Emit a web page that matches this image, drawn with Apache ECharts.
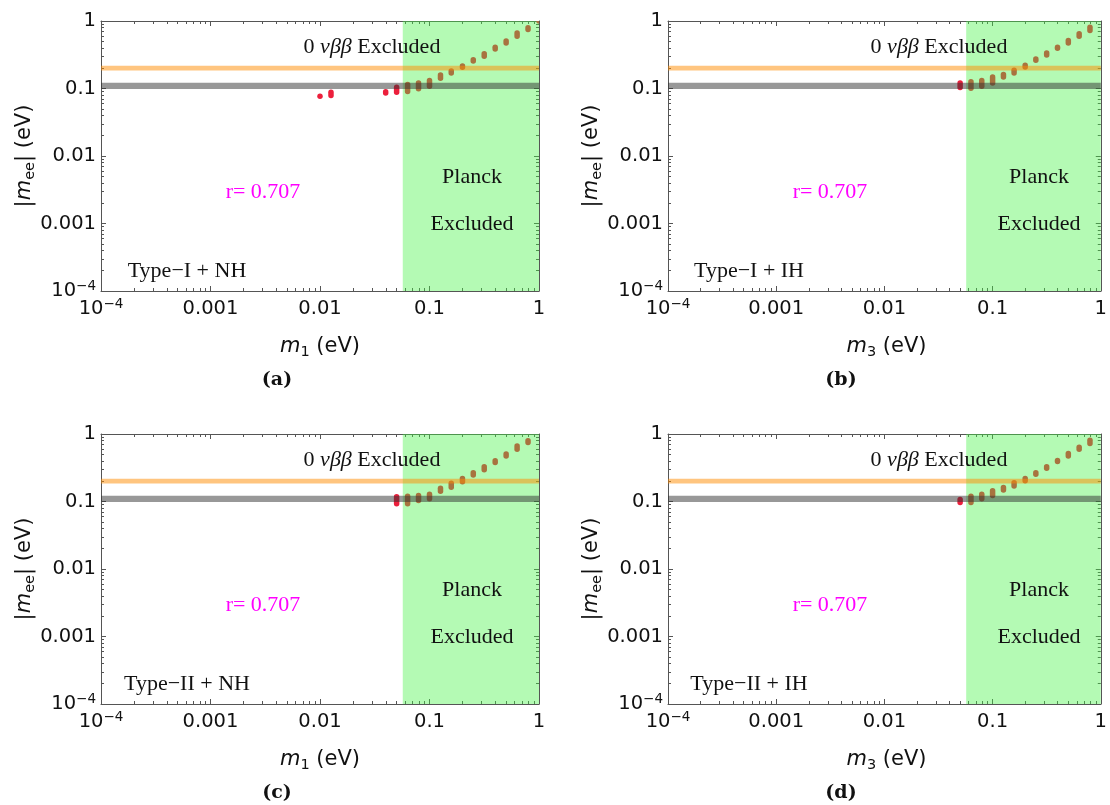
<!DOCTYPE html>
<html><head><meta charset="utf-8">
<script src="https://cdn.jsdelivr.net/npm/echarts@6/dist/echarts.min.js"></script>
<style>html,body{margin:0;padding:0;background:#fff}#c{width:1110px;height:805px}</style>
</head><body><div id="c"></div>
<script>
// ---------- data ----------
const majorTicks = [1e-4, 1e-3, 1e-2, 1e-1, 1];
const minorMultipliers = [2, 3, 4, 5, 6, 7, 8, 9];
const decades = [1e-4, 1e-3, 1e-2, 1e-1];
const planckLimit = 0.057;
const bandOrange = [0.184, 0.218];
const bandGray = [0.098, 0.122];

// Panel (a) Type-I + NH
const xA  = [0.01, 0.0126, 0.0398, 0.0501, 0.0631, 0.0794, 0.1, 0.126, 0.158, 0.2, 0.251, 0.316, 0.398, 0.501, 0.631, 0.794, 1.0];
const loA = [0.076, 0.072, 0.078, 0.080, 0.082, 0.090, 0.098, 0.129, 0.155, 0.188, 0.233, 0.274, 0.35, 0.43, 0.54, 0.68, 0.92];
const hiA = [0.078, 0.097, 0.098, 0.115, 0.126, 0.132, 0.144, 0.174, 0.199, 0.236, 0.293, 0.36, 0.45, 0.554, 0.73, 0.87, 1.08];
// Panel (b) Type-I + IH
const xB  = [0.0501, 0.0631, 0.0794, 0.1, 0.126, 0.158, 0.2, 0.251, 0.316, 0.398, 0.501, 0.631, 0.794];
const loB = [0.094, 0.092, 0.098, 0.110, 0.135, 0.155, 0.19, 0.238, 0.286, 0.36, 0.43, 0.54, 0.66];
const hiB = [0.132, 0.138, 0.144, 0.162, 0.177, 0.204, 0.242, 0.30, 0.37, 0.45, 0.566, 0.71, 0.89];
// Panel (c) Type-II + NH
const xC  = [0.0501, 0.0631, 0.0794, 0.1, 0.126, 0.158, 0.2, 0.251, 0.316, 0.398, 0.501, 0.631, 0.794];
const loC = [0.084, 0.084, 0.094, 0.1, 0.129, 0.148, 0.178, 0.225, 0.27, 0.345, 0.43, 0.54, 0.68];
const hiC = [0.129, 0.131, 0.135, 0.141, 0.172, 0.204, 0.24, 0.294, 0.36, 0.44, 0.553, 0.73, 0.87];
// Panel (d) Type-II + IH
const xD  = [0.0501, 0.0631, 0.0794, 0.1, 0.126, 0.158, 0.2, 0.251, 0.316, 0.398, 0.501, 0.631, 0.794];
const loD = [0.088, 0.088, 0.1, 0.112, 0.135, 0.154, 0.184, 0.23, 0.284, 0.355, 0.43, 0.54, 0.66];
const hiD = [0.118, 0.131, 0.141, 0.158, 0.177, 0.208, 0.24, 0.294, 0.36, 0.445, 0.566, 0.70, 0.89];

const typeLabels = ['Type\u2212I + NH', 'Type\u2212I + IH', 'Type\u2212II + NH', 'Type\u2212II + IH'];
const xSubs = ['1', '3', '1', '3'];
const captions = ['(a)', '(b)', '(c)', '(d)'];
const rText = 'r= 0.707';

// ---------- layout / style ----------
const grids = [
  {left: 101, top: 21, width: 438, height: 270},
  {left: 668, top: 21, width: 437, height: 270},
  {left: 101, top: 434, width: 438, height: 270},
  {left: 668, top: 434, width: 437, height: 270}
];
const typeCx = [86, 81, 86, 81];
const capCx = [176, 173, 176, 173];
const frameColor = '#555';
const labelFont = 'DejaVu Sans';
const serif = 'Liberation Serif';
const pointColor = '#ec1f3c';

const minorTicks = [];
decades.forEach(d => minorMultipliers.forEach(m => minorTicks.push(+(d * m).toPrecision(3))));

function fmt(v) {
  const e = Math.round(Math.log10(v));
  if (e === 0) return '1';
  if (e === -1) return '0.1';
  if (e === -2) return '0.01';
  if (e === -3) return '0.001';
  return '{b|10}{s|\u2212' + (-e) + '}';
}
const richNum = {
  b: {fontFamily: labelFont, fontSize: 19.5, lineHeight: 24, color: '#111'},
  s: {fontFamily: labelFont, fontSize: 13.5, lineHeight: 12, verticalAlign: 'top', color: '#111'}
};

const xAxes = [], yAxes = [];
grids.forEach((g, gi) => {
  const base = {gridIndex: gi, type: 'log', logBase: 10, min: 1e-4, max: 1, splitLine: {show: false}};
  const mk = (pos, ticks, len, line, labels, isX) => Object.assign({}, base, {
    position: pos,
    axisLine: {show: line, lineStyle: {color: frameColor, width: 1}},
    axisTick: {show: true, inside: true, length: len, customValues: ticks, lineStyle: {color: frameColor, width: 1}},
    axisLabel: labels ? {show: true, customValues: majorTicks, formatter: fmt, rich: richNum,
      fontFamily: labelFont, fontSize: 19.5, lineHeight: 24, color: '#111', margin: isX ? 6 : 5} : {show: false}
  });
  xAxes.push(mk('bottom', majorTicks, 5, true, true, true));
  xAxes.push(mk('bottom', minorTicks, 3, false, false, true));
  xAxes.push(mk('top', majorTicks, 5, true, false, true));
  xAxes.push(mk('top', minorTicks, 3, false, false, true));
  yAxes.push(mk('left', majorTicks, 5, true, true, false));
  yAxes.push(mk('left', minorTicks, 3, false, false, false));
  yAxes.push(mk('right', majorTicks, 5, true, false, false));
  yAxes.push(mk('right', minorTicks, 3, false, false, false));
});

function renderPoint(params, api) {
  const x = api.value(0), lo = api.value(1), hi = api.value(2);
  const pLo = api.coord([x, lo]), pHi = api.coord([x, hi]);
  const w = 5.5;
  let top = pHi[1], h = pLo[1] - pHi[1];
  if (h < w) { const c = (pLo[1] + pHi[1]) / 2; top = c - w / 2; h = w; }
  return {type: 'rect', shape: {x: pLo[0] - w / 2, y: top, width: w, height: h, r: w / 2},
    style: {fill: pointColor}};
}
function renderGreen(params, api) {
  const cs = params.coordSys;
  const px = api.coord([api.value(0), 1])[0];
  return {type: 'rect', shape: {x: px, y: cs.y, width: cs.x + cs.width - px, height: cs.height},
    style: {fill: 'rgba(68,242,68,0.4)'}};
}
function bandRenderer(color) {
  return function (params, api) {
    const cs = params.coordSys;
    const pLo = api.coord([1e-4, api.value(1)]), pHi = api.coord([1e-4, api.value(2)]);
    return {type: 'rect', shape: {x: cs.x, y: pHi[1], width: cs.width, height: pLo[1] - pHi[1]},
      style: {fill: color}};
  };
}

const panelData = [[xA, loA, hiA], [xB, loB, hiB], [xC, loC, hiC], [xD, loD, hiD]];
const series = [];
panelData.forEach((pd, gi) => {
  const xi = gi * 4, yi = gi * 4;
  series.push({type: 'custom', xAxisIndex: xi, yAxisIndex: yi, clip: true, z: 2,
    renderItem: renderPoint, encode: {x: 0, y: [1, 2]},
    data: pd[0].map((x, i) => [x, pd[1][i], pd[2][i]])});
  series.push({type: 'custom', xAxisIndex: xi, yAxisIndex: yi, clip: true, z: 3,
    renderItem: renderGreen, encode: {x: 0, y: 1}, data: [[planckLimit, 1]]});
  series.push({type: 'custom', xAxisIndex: xi, yAxisIndex: yi, clip: true, z: 4,
    renderItem: bandRenderer('rgba(255,140,0,0.5)'), encode: {x: 0, y: [1, 2]},
    data: [[1e-4, bandOrange[0], bandOrange[1]]]});
  series.push({type: 'custom', xAxisIndex: xi, yAxisIndex: yi, clip: true, z: 4,
    renderItem: bandRenderer('rgba(50,50,50,0.5)'), encode: {x: 0, y: [1, 2]},
    data: [[1e-4, bandGray[0], bandGray[1]]]});
});

const titleRich = {
  i: {fontFamily: labelFont, fontSize: 21, fontStyle: 'italic', lineHeight: 26, fill: '#111'},
  sub: {fontFamily: labelFont, fontSize: 14.5, lineHeight: 13, verticalAlign: 'bottom', fill: '#111'},
  n: {fontFamily: labelFont, fontSize: 21, lineHeight: 26, fill: '#111'}
};
const graphics = [];
grids.forEach((g, gi) => {
  const L = g.left, T = g.top;
  const txt = (x, y, style, extra) => graphics.push(Object.assign({type: 'text', x: L + x, y: T + y, z: 100,
    style: Object.assign({align: 'center', verticalAlign: 'middle', fill: '#111'}, style)}, extra || {}));
  txt(271, 26, {text: '{n|0}{i| \u03bd\u03b2\u03b2}{n| Excluded}',
    rich: {n: {fontFamily: serif, fontSize: 22, fill: '#111'}, i: {fontFamily: serif, fontSize: 22, fontStyle: 'italic', fill: '#111'}}});
  txt(162, 171, {text: rText, font: '22px "' + serif + '"', fill: '#f0f'});
  txt(371, 156, {text: 'Planck', font: '22px "' + serif + '"'});
  txt(371, 203, {text: 'Excluded', font: '22px "' + serif + '"'});
  txt(typeCx[gi], 250, {text: typeLabels[gi], font: '22px "' + serif + '"'});
  txt(g.width / 2, 326, {text: '{i|m}{sub|' + xSubs[gi] + '}{n| (eV)}', rich: titleRich});
  txt(-76, 135, {text: '{n||}{i|m}{sub|ee}{n|| (eV)}', rich: titleRich}, {rotation: Math.PI / 2});
  txt(capCx[gi], 359, {text: captions[gi], font: 'bold 19px "DejaVu Serif"'});
});

const chart = echarts.init(document.getElementById('c'), null, {renderer: 'canvas'});
chart.setOption({
  animation: false,
  backgroundColor: '#fff',
  grid: grids.map(g => Object.assign({containLabel: false}, g)),
  xAxis: xAxes,
  yAxis: yAxes,
  series: series,
  graphic: graphics
});
</script></body></html>
